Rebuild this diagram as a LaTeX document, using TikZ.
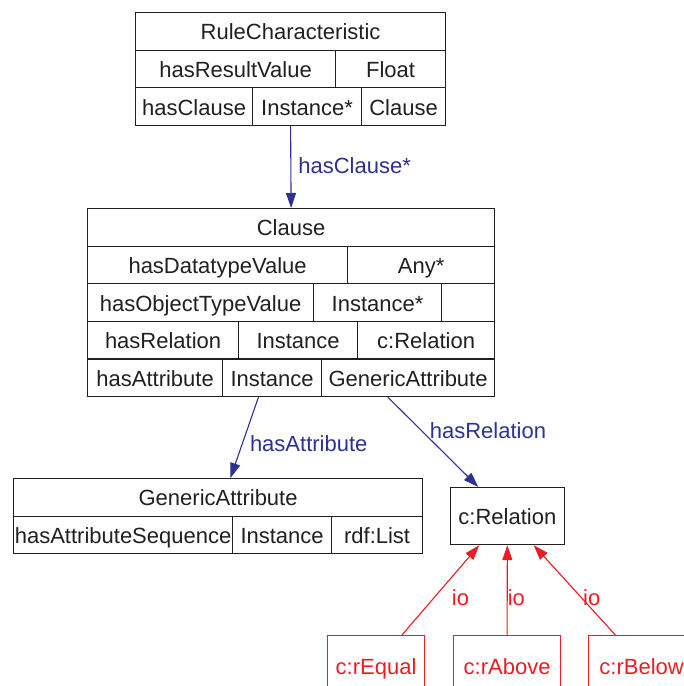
\documentclass[tikz,border=0pt]{standalone}
\usepackage{fontspec}
\setmainfont{Liberation Sans}
\usetikzlibrary{arrows.meta,calc}

\definecolor{ink}{RGB}{35,31,32}
\definecolor{propblue}{RGB}{46,49,146}
\definecolor{iored}{RGB}{237,28,36}

\begin{document}
\begin{tikzpicture}[x=1pt,y=-1pt,
    every node/.style={font=\fontsize{22}{26}\selectfont,text=ink,text height=17pt,text depth=0pt},
    cell/.style={draw=ink,line width=1.2pt,anchor=north west,inner sep=0pt,minimum height=37.6pt},
    inst/.style={draw=iored,text=iored,line width=1.2pt,anchor=north west,inner sep=0pt,minimum height=60pt},
    prop/.style={draw=propblue,line width=1.1pt,-{Triangle[length=15pt,width=10pt]}},
    io/.style={draw=iored,line width=1.1pt,-{Triangle[length=15pt,width=10pt]}},
    proplabel/.style={text=propblue,inner sep=0pt,anchor=west},
    iolabel/.style={text=iored,inner sep=0pt,anchor=west}]
    \clip[use as bounding box] (0,0) rectangle (684,686);

    % RuleCharacteristic record
    \node[cell,minimum width=310pt,minimum height=112.8pt] (rc) at (135,12) {};
    \node[cell,minimum width=310pt] (rcHead) at (135,12) {RuleCharacteristic};
    \node[cell,minimum width=200pt] (rcResult) at (135,49.6) {hasResultValue};
    \node[cell,minimum width=110pt] (rcFloat) at (335,49.6) {Float};
    \node[cell,minimum width=117pt] (rcHasClause) at (135,87.2) {hasClause};
    \node[cell,minimum width=109pt] (rcInst) at (252,87.2) {Instance*};
    \node[cell,minimum width=84pt] (rcClause) at (361,87.2) {Clause};

    % Clause record
    \node[cell,minimum width=407pt,minimum height=188pt] (cl) at (87,208) {};
    \node[cell,minimum width=407pt] (clHead) at (87,208) {Clause};
    \node[cell,minimum width=260pt] (clData) at (87,245.6) {hasDatatypeValue};
    \node[cell,minimum width=147pt] (clAny) at (347,245.6) {Any*};
    \node[cell,minimum width=226pt] (clObject) at (87,283.2) {hasObjectTypeValue};
    \node[cell,minimum width=128pt] (clObjInst) at (313,283.2) {Instance*};
    \node[cell,minimum width=53pt] (clObjRange) at (441,283.2) {};
    \node[cell,minimum width=151pt] (clRel) at (87,320.8) {hasRelation};
    \node[cell,minimum width=119pt] (clRelInst) at (238,320.8) {Instance};
    \node[cell,minimum width=137pt] (clRelRange) at (357,320.8) {c:Relation};
    \node[cell,minimum width=135pt] (clAttr) at (87,358.4) {hasAttribute};
    \node[cell,minimum width=99pt] (clAttrInst) at (222,358.4) {Instance};
    \node[cell,minimum width=173pt] (clAttrRange) at (321,358.4) {GenericAttribute};

    % GenericAttribute record
    \node[cell,minimum width=409pt,minimum height=75.2pt] (ga) at (13,478) {};
    \node[cell,minimum width=409pt] (gaHead) at (13,478) {GenericAttribute};
    \node[cell,minimum width=219pt] (gaSeq) at (13,515.6) {hasAttributeSequence};
    \node[cell,minimum width=99pt] (gaInst) at (232,515.6) {Instance};
    \node[cell,minimum width=91pt] (gaList) at (331,515.6) {rdf:List};

    % c:Relation and its instances
    \node[cell,minimum width=113.5pt,minimum height=57pt] (rel) at (450,487) {c:Relation};
    \node[inst,minimum width=97pt] (rEqual) at (327,635) {c:rEqual};
    \node[inst,minimum width=107pt] (rAbove) at (453,635) {c:rAbove};
    \node[inst,minimum width=106pt] (rBelow) at (588,635) {c:rBelow};

    % Properties
    \draw[prop] (rc.south) -- (cl.north)
        node[proplabel,pos=.48,xshift=7pt] {hasClause*};
    \draw[prop] ($(cl.south west)!.42!(cl.south east)$) -- ($(ga.north west)!.53!(ga.north east)$)
        node[proplabel,pos=.57,xshift=7pt] {hasAttribute};
    \draw[prop] ($(cl.south west)!.737!(cl.south east)$) -- ($(rel.north west)!.247!(rel.north east)$)
        node[proplabel,pos=.37,xshift=8pt] {hasRelation};

    % Instance-of links
    \draw[io] ($(rEqual.north west)!.763!(rEqual.north east)$) -- ($(rel.south west)!.255!(rel.south east)$)
        node[iolabel,pos=.42,xshift=17pt] {io};
    \draw[io] (rAbove.north) -- (rel.south)
        node[iolabel,pos=.42,xshift=0pt] {io};
    \draw[io] ($(rBelow.north west)!.255!(rBelow.north east)$) -- ($(rel.south west)!.73!(rel.south east)$)
        node[iolabel,pos=.42,xshift=1.5pt] {io};
\end{tikzpicture}
\end{document}
